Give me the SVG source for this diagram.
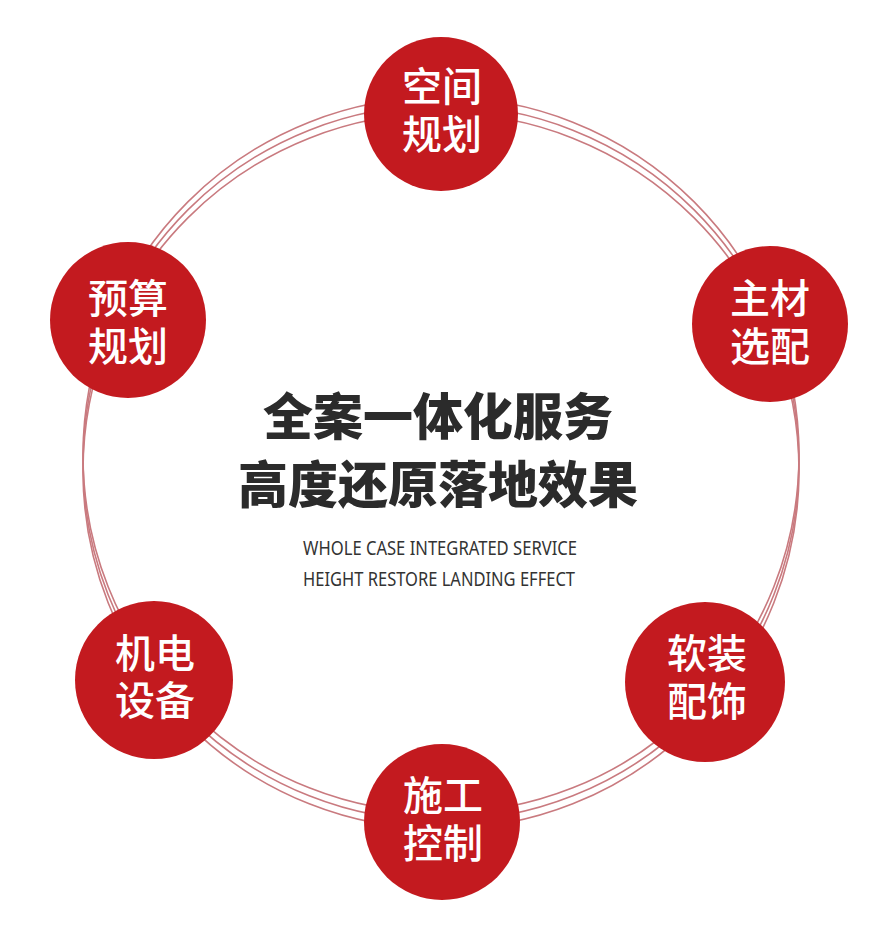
<svg xmlns="http://www.w3.org/2000/svg" width="880" height="933" viewBox="0 0 880 933">
  <style>
    .ring { fill: none; stroke: #c97a7f; stroke-width: 1.6; }
    .node circle { fill: #c31a1f; }
    .node text { fill: #ffffff; font-family: "Noto Sans CJK SC", "Noto Sans", sans-serif; font-size: 40px; font-weight: 500; text-anchor: middle; }
    .title { fill: #2b2b2b; font-family: "Noto Sans CJK SC", "Noto Sans", sans-serif; font-size: 50px; font-weight: 900; text-anchor: middle; }
    .sub { fill: #333333; font-family: "Noto Sans", "Liberation Sans", sans-serif; font-size: 19px; font-weight: 400; text-anchor: middle; }
  </style>
  <rect width="880" height="933" fill="#ffffff"/>
  <g id="connectors">
    <circle class="ring" cx="441" cy="455" r="358"/>
    <circle class="ring" cx="441" cy="463" r="358"/>
    <circle class="ring" cx="441" cy="471" r="358"/>
  </g>
  <g id="node-kongjian" class="node">
    <circle cx="441" cy="114" r="77"/>
    <text x="442" y="101">空间<tspan x="442" dy="48">规划</tspan></text>
  </g>
  <g id="node-zhucai" class="node">
    <circle cx="770" cy="324" r="78"/>
    <text x="770" y="313">主材<tspan x="770" dy="48">选配</tspan></text>
  </g>
  <g id="node-yusuan" class="node">
    <circle cx="128" cy="320" r="78"/>
    <text x="128" y="313">预算<tspan x="128" dy="48">规划</tspan></text>
  </g>
  <g id="node-jidian" class="node">
    <circle cx="154" cy="680" r="79"/>
    <text x="155" y="668">机电<tspan x="155" dy="47">设备</tspan></text>
  </g>
  <g id="node-ruanzhuang" class="node">
    <circle cx="705" cy="682" r="80"/>
    <text x="707" y="668">软装<tspan x="707" dy="48">配饰</tspan></text>
  </g>
  <g id="node-shigong" class="node">
    <circle cx="442" cy="822" r="78"/>
    <text x="443" y="810">施工<tspan x="443" dy="48">控制</tspan></text>
  </g>
  <g id="center-text">
    <text class="title" x="438" y="435">全案一体化服务</text>
    <text class="title" x="438" y="503">高度还原落地效果</text>
    <text class="sub" x="440" y="555" textLength="274" lengthAdjust="spacingAndGlyphs">WHOLE CASE INTEGRATED SERVICE</text>
    <text class="sub" x="439" y="586" textLength="272" lengthAdjust="spacingAndGlyphs">HEIGHT RESTORE LANDING EFFECT</text>
  </g>
</svg>
